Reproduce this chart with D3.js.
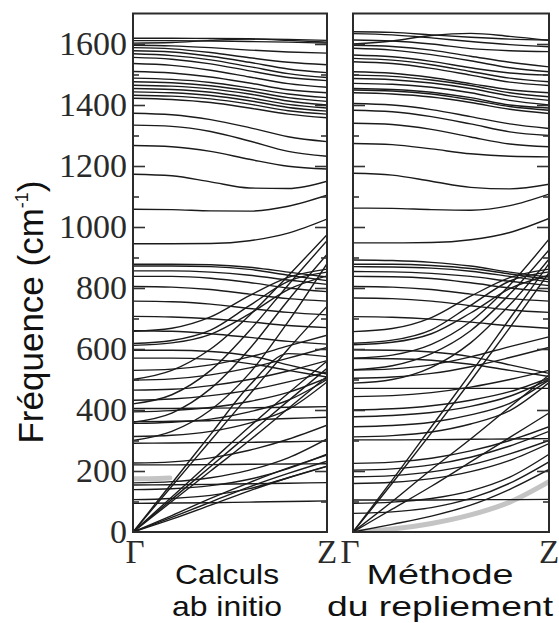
<!DOCTYPE html>
<html>
<head>
<meta charset="utf-8">
<script src="https://cdn.jsdelivr.net/npm/d3@7"></script>
<style>
  html, body { margin: 0; padding: 0; background: #fff; }
  svg { display: block; }
</style>
</head>
<body>
<svg id="chart" width="559" height="623"></svg>
<script>
// Wave-vector samples along Γ → Z (reduced units)
const qPoints = [0, 0.2, 0.4, 0.6, 0.8, 1];
const pointLabels = ["Γ", "Z"];
const yTickValues = [0, 200, 400, 600, 800, 1000, 1200, 1400, 1600];
const yMinorTickValues = [100, 300, 500, 700, 900, 1100, 1300, 1500];

// ---- Ab initio dispersion (cm^-1 at each qPoint) ----
const bandesHautesAbInitio = [
  [1619, 1619, 1618, 1617, 1615, 1612],
  [1611, 1611, 1610, 1608, 1606, 1603],
  [1603, 1605, 1612, 1616, 1612, 1606],
  [1596, 1594, 1588, 1580, 1574, 1570],
  [1588, 1584, 1572, 1555, 1540, 1532],
  [1578, 1574, 1560, 1540, 1518, 1506],
  [1568, 1562, 1548, 1526, 1503, 1490],
  [1556, 1550, 1535, 1512, 1490, 1480],
  [1536, 1530, 1514, 1492, 1470, 1458],
  [1510, 1505, 1492, 1472, 1450, 1440],
  [1488, 1484, 1474, 1456, 1436, 1424],
  [1476, 1473, 1463, 1446, 1424, 1412],
  [1465, 1462, 1453, 1436, 1413, 1400],
  [1454, 1451, 1442, 1424, 1402, 1390],
  [1443, 1440, 1431, 1414, 1392, 1380],
  [1432, 1429, 1420, 1403, 1381, 1370],
  [1422, 1418, 1408, 1390, 1370, 1358],
  [1373, 1368, 1352, 1326, 1296, 1280],
  [1334, 1330, 1313, 1282, 1248, 1232],
  [1267, 1263, 1248, 1222, 1199, 1190],
  [1173, 1168, 1148, 1128, 1126, 1150],
  [1058, 1057, 1053, 1052, 1068, 1104],
  [945, 945, 946, 955, 980, 1026]
];
const bandesMoyennesAbInitio = [
  [878, 878, 876, 868, 852, 836],
  [872, 872, 870, 861, 842, 824],
  [856, 856, 852, 842, 826, 812],
  [838, 838, 832, 818, 800, 788],
  [805, 803, 795, 780, 765, 757],
  [757, 755, 747, 733, 720, 712],
  [707, 705, 699, 689, 677, 670],
  [660, 658, 650, 638, 625, 616],
  [658, 668, 705, 775, 835, 862],
  [618, 628, 662, 742, 822, 852],
  [612, 620, 648, 715, 795, 840],
  [500, 530, 600, 710, 840, 975],
  [420, 450, 530, 660, 810, 955],
  [360, 390, 470, 600, 760, 910],
  [300, 330, 400, 520, 690, 880]
];
const bandesBassesAbInitio = [
  [596, 596, 592, 578, 548, 518],
  [570, 570, 566, 552, 530, 508],
  [530, 534, 548, 574, 610, 645],
  [498, 502, 515, 538, 570, 605],
  [465, 468, 480, 500, 528, 562],
  [432, 436, 447, 465, 492, 525],
  [394, 398, 408, 428, 458, 505],
  [356, 360, 370, 394, 432, 500],
  [313, 317, 330, 357, 402, 492],
  [226, 230, 243, 268, 304, 350],
  [161, 165, 178, 203, 243, 305],
  [139, 142, 152, 173, 208, 255],
  [106, 110, 120, 142, 178, 215],
  [405, 405, 406, 407, 409, 411],
  [362, 363, 365, 368, 372, 376],
  [291, 292, 293, 294, 296, 298],
  [220, 220, 221, 222, 223, 224],
  [154, 155, 156, 158, 160, 162],
  [94, 95, 96, 98, 100, 102]
];
const acoustiquesAbInitio = [
  [0, 42, 88, 135, 178, 216],
  [0, 48, 98, 148, 192, 232],
  [0, 54, 110, 162, 210, 252],
  [0, 100, 200, 300, 405, 510],
  [0, 107, 215, 322, 430, 537],
  [0, 115, 230, 345, 455, 560],
  [0, 160, 320, 480, 585, 575],
  [0, 150, 300, 450, 600, 740]
];
const qGrisAbInitio = [0, 0.09, 0.19];
const fGrisAbInitio = [175, 175, 177];

// ---- Zone-folding dispersion (cm^-1 at each qPoint) ----
const bandesHautesRepliement = [
  [1640, 1638, 1630, 1622, 1616, 1613],
  [1634, 1630, 1620, 1608, 1598, 1591],
  [1600, 1610, 1628, 1635, 1625, 1612],
  [1613, 1610, 1600, 1585, 1578, 1575],
  [1596, 1592, 1580, 1560, 1540, 1525],
  [1586, 1580, 1565, 1545, 1522, 1509],
  [1564, 1558, 1543, 1522, 1505, 1498],
  [1553, 1547, 1532, 1510, 1488, 1476],
  [1542, 1536, 1520, 1498, 1475, 1464],
  [1509, 1504, 1490, 1470, 1450, 1440],
  [1498, 1494, 1482, 1464, 1440, 1427],
  [1487, 1483, 1472, 1454, 1430, 1415],
  [1471, 1468, 1458, 1440, 1415, 1400],
  [1454, 1451, 1442, 1424, 1400, 1390],
  [1449, 1446, 1436, 1417, 1395, 1383],
  [1440, 1436, 1426, 1408, 1386, 1372],
  [1405, 1400, 1385, 1362, 1338, 1323],
  [1383, 1378, 1362, 1338, 1312, 1300],
  [1340, 1336, 1320, 1295, 1272, 1263],
  [1274, 1270, 1256, 1240, 1232, 1230],
  [1176, 1170, 1150, 1130, 1125, 1140],
  [1062, 1061, 1057, 1055, 1070, 1108],
  [948, 948, 949, 958, 982, 1028]
];
const bandesMoyennesRepliement = [
  [892, 890, 884, 872, 852, 836],
  [878, 878, 874, 864, 846, 828],
  [870, 869, 865, 855, 838, 820],
  [854, 853, 848, 838, 822, 808],
  [838, 837, 831, 817, 800, 788],
  [805, 803, 795, 780, 765, 757],
  [767, 765, 757, 742, 728, 720],
  [706, 704, 698, 688, 676, 668],
  [657, 667, 703, 773, 834, 862],
  [619, 629, 663, 743, 823, 853],
  [614, 622, 650, 718, 798, 842],
  [570, 580, 615, 690, 810, 960],
  [532, 545, 585, 660, 780, 925],
  [488, 500, 540, 620, 745, 895]
];
const bandesBassesRepliement = [
  [597, 596, 590, 575, 548, 520],
  [569, 568, 563, 550, 530, 510],
  [531, 535, 548, 574, 608, 640],
  [504, 508, 520, 542, 572, 605],
  [444, 447, 457, 475, 500, 530],
  [400, 404, 414, 432, 460, 505],
  [378, 382, 392, 412, 445, 500],
  [345, 349, 360, 384, 422, 498],
  [312, 316, 328, 354, 398, 490],
  [225, 229, 242, 266, 300, 345],
  [203, 207, 220, 245, 282, 330],
  [181, 185, 197, 220, 256, 300],
  [159, 163, 175, 198, 235, 290],
  [94, 98, 110, 135, 180, 255],
  [61, 66, 80, 110, 160, 230],
  [471, 471, 471, 471, 471, 471],
  [302, 302, 303, 304, 305, 306],
  [105, 105, 105, 106, 106, 107]
];
const acoustiquesRepliement = [
  [0, 25, 52, 88, 140, 205],
  [0, 75, 150, 230, 310, 390],
  [0, 100, 205, 305, 410, 515],
  [0, 160, 325, 495, 670, 850],
  [0, 170, 345, 520, 700, 880]
];
const qGrisRepliement = [0, 0.2, 0.4, 0.6, 0.8, 1];
const fGrisRepliement = [0, 10, 28, 56, 98, 165];

const panels = [
  {
    x0: 133, x1: 327,
    bands: [].concat(bandesHautesAbInitio, bandesMoyennesAbInitio, bandesBassesAbInitio, acoustiquesAbInitio),
    grayQ: qGrisAbInitio, grayF: fGrisAbInitio,
    captions: ["Calculs", "ab initio"], captionX: 227, widths: [104, 110]
  },
  {
    x0: 353, x1: 549,
    bands: [].concat(bandesHautesRepliement, bandesMoyennesRepliement, bandesBassesRepliement, acoustiquesRepliement),
    grayQ: qGrisRepliement, grayF: fGrisRepliement,
    captions: ["Méthode", "du repliement"], captionX: 440, widths: [147, 226]
  }
];

const svg = d3.select("#chart");
const frameTop = 13.5, frameBottom = 532;
const y = d3.scaleLinear().domain([0, 1700]).range([frameBottom, frameTop]);

panels.forEach((p, idx) => {
  const x = d3.scaleLinear().domain([0, 1]).range([p.x0, p.x1]);
  const clipId = "clip" + idx;
  svg.append("clipPath").attr("id", clipId)
    .append("rect").attr("x", p.x0).attr("y", frameTop)
    .attr("width", p.x1 - p.x0).attr("height", frameBottom - frameTop);

  const g = svg.append("g").attr("clip-path", `url(#${clipId})`);

  const lineFor = qs => d3.line()
    .x((d, i) => x(qs[i]))
    .y(d => y(d))
    .curve(d3.curveMonotoneX);

  // highlighted (grey) branch
  g.append("path")
    .attr("d", lineFor(p.grayQ)(p.grayF))
    .attr("fill", "none")
    .attr("stroke", "#c4c4c4")
    .attr("stroke-width", 5)
    .attr("stroke-linecap", "round");

  // phonon branches
  g.selectAll("path.band").data(p.bands).join("path")
    .attr("class", "band")
    .attr("d", d => lineFor(qPoints)(d))
    .attr("fill", "none")
    .attr("stroke", "#1b1b1b")
    .attr("stroke-width", 1.4);

  // inward ticks on both sides of the frame
  const tickSets = [
    { values: yTickValues.filter(v => v > 0), size: 12 },
    { values: yMinorTickValues, size: 6 }
  ];
  tickSets.forEach(ts => {
    [[d3.axisRight(y), p.x0], [d3.axisLeft(y), p.x1]].forEach(([ax, tx]) => {
      const gt = svg.append("g").attr("transform", `translate(${tx},0)`)
        .call(ax.tickValues(ts.values).tickSize(ts.size).tickFormat(""));
      gt.select(".domain").remove();
      gt.selectAll("line").attr("stroke", "#333").attr("stroke-width", 1.6);
    });
  });

  // frame
  svg.append("rect")
    .attr("x", p.x0).attr("y", frameTop)
    .attr("width", p.x1 - p.x0).attr("height", frameBottom - frameTop)
    .attr("fill", "none").attr("stroke", "#2b2b2b").attr("stroke-width", 2);

  // high-symmetry points
  svg.selectAll(null).data(pointLabels).join("text")
    .attr("x", (d, i) => x(i === 0 ? 0 : 1) + (idx === 1 && i === 0 ? -3 : (idx === 0 && i === 0 ? 2 : 0)))
    .attr("y", 563)
    .attr("text-anchor", "middle")
    .attr("font-family", "'Liberation Serif', 'Times New Roman', serif")
    .attr("font-size", 33)
    .attr("fill", "#2a2a2a")
    .text(d => d);

  // captions
  p.captions.forEach((c, i) => {
    svg.append("text")
      .attr("x", p.captionX)
      .attr("y", i === 0 ? 584 : 616)
      .attr("text-anchor", "middle")
      .attr("font-family", "'Liberation Sans', Arial, sans-serif")
      .attr("font-size", 28.5)
      .attr("fill", "#111")
      .attr("textLength", p.widths[i])
      .attr("lengthAdjust", "spacingAndGlyphs")
      .text(c);
  });
});

// frequency labels
const yLabels = svg.append("g").attr("transform", "translate(127,0)")
  .call(d3.axisLeft(y).tickValues(yTickValues).tickSize(0).tickPadding(0).tickFormat(d3.format("d")));
yLabels.select(".domain").remove();
yLabels.selectAll("text")
  .attr("font-family", "'Liberation Serif', 'Times New Roman', serif")
  .attr("font-size", 34)
  .attr("fill", "#2a2a2a");

// axis title
const title = svg.append("text")
  .attr("transform", "translate(43,312) rotate(-90)")
  .attr("text-anchor", "middle")
  .attr("font-family", "'Liberation Sans', Arial, sans-serif")
  .attr("font-size", 35)
  .attr("fill", "#111");
title.append("tspan").text("Fréquence (cm");
title.append("tspan").attr("font-size", 18).attr("dy", -15).text("-1");
title.append("tspan").attr("dy", 15).text(")");
</script>
</body>
</html>
